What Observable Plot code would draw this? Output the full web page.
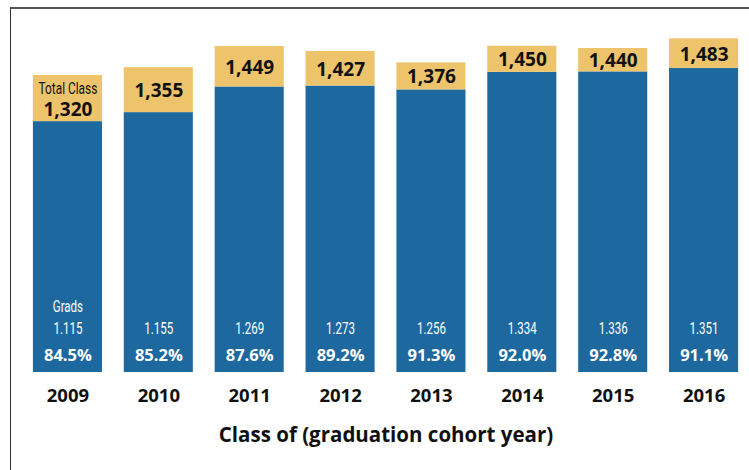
<!DOCTYPE html>
<html>
<head>
<meta charset="utf-8">
<script src="https://cdn.jsdelivr.net/npm/d3@7"></script>
<script src="https://cdn.jsdelivr.net/npm/@observablehq/plot@0.6"></script>
<style>
  html, body { margin: 0; padding: 0; background: #fff; }
  #wrap { position: relative; width: 749px; height: 470px; overflow: hidden; }
  #border { position: absolute; left: 10px; top: 7px; width: 800px; height: 500px;
            border-left: 1.5px solid #333; border-top: 2px solid #555; pointer-events: none; }
  #chart svg { display: block; }
</style>
</head>
<body>
<div id="wrap">
  <div id="chart"></div>
  <div id="border"></div>
</div>
<script>
const years = ["2009", "2010", "2011", "2012", "2013", "2014", "2015", "2016"];
const totals = [1320, 1355, 1449, 1427, 1376, 1450, 1440, 1483];
const grads = [1115, 1155, 1269, 1273, 1256, 1334, 1336, 1351];
const pcts = [84.5, 85.2, 87.6, 89.2, 91.3, 92.0, 92.8, 91.1];

const BLUE = "#1e68a0";
const GOLD = "#edc46b";
const condensed = "Roboto, 'Liberation Sans', sans-serif";
const mainFont = "'Open Sans', 'DejaVu Sans', sans-serif";

const rows = years.map((y, i) => ({
  year: y, total: totals[i], grads: grads[i], pct: pcts[i],
  mid: (grads[i] + totals[i]) / 2
}));

const fmtTotal = d3.format(",");
const dotLocale = d3.formatLocale({decimal: ",", thousands: ".", grouping: [3], currency: ["", ""]});
const fmtGrads = dotLocale.format(",");
const fmtPct = d => d.toFixed(1) + "%";

const first = rows.slice(0, 1);
const rest = rows.slice(1);

const chart = Plot.plot({
  width: 749,
  height: 470,
  marginLeft: 22,
  marginRight: 0,
  marginTop: 12,
  marginBottom: 98,
  style: {fontFamily: mainFont, background: "transparent"},
  x: {type: "band", domain: years, paddingInner: 0.24, paddingOuter: 0.12, round: false, axis: null},
  y: {domain: [0, 1600], axis: null},
  marks: [
    Plot.barY(rows, {x: "year", y1: 0, y2: "grads", fill: BLUE}),
    Plot.barY(rows, {x: "year", y1: "grads", y2: "total", fill: GOLD}),
    // total class labels
    Plot.text(rest, {x: "year", y: "mid", text: d => fmtTotal(d.total), dy: 1,
      fontSize: 19, fontWeight: "bold", fill: "#111"}),
    Plot.text(first, {x: "year", y: "mid", text: d => fmtTotal(d.total), dy: 11,
      fontSize: 19, fontWeight: "bold", fill: "#111"}),
    Plot.text(first, {x: "year", y: "mid", text: () => "Total Class", dy: -10,
      fontSize: 16.5, fontFamily: condensed, fill: "#111"}),
    // grads labels
    Plot.text(first, {x: "year", y: 0, text: () => "Grads", dy: -66,
      fontSize: 16, fontFamily: condensed, fill: "#fff"}),
    Plot.text(rows, {x: "year", y: 0, text: d => fmtGrads(d.grads), dy: -44,
      fontSize: 16, fontFamily: condensed, fill: "#fff"}),
    Plot.text(rows, {x: "year", y: 0, text: d => fmtPct(d.pct), dy: -17,
      fontSize: 16.5, fontWeight: "bold", fill: "#fff"}),
    // year labels
    Plot.text(rows, {x: "year", frameAnchor: "bottom", text: "year", dy: 29,
      fontSize: 18.5, fontWeight: "bold", fill: "#111"}),
    // axis title
    Plot.text(["Class of (graduation cohort year)"], {frameAnchor: "bottom", text: d => d,
      dy: 69, fontSize: 20.5, fontWeight: "bold", fill: "#111"})
  ]
});
document.getElementById("chart").appendChild(chart);

// condense the narrow labels (style only)
chart.querySelectorAll("g[font-family^='Roboto'] text").forEach(t => {
  const w = t.getComputedTextLength();
  t.setAttribute("textLength", (w * 0.72).toFixed(1));
  t.setAttribute("lengthAdjust", "spacingAndGlyphs");
});
</script>
</body>
</html>
